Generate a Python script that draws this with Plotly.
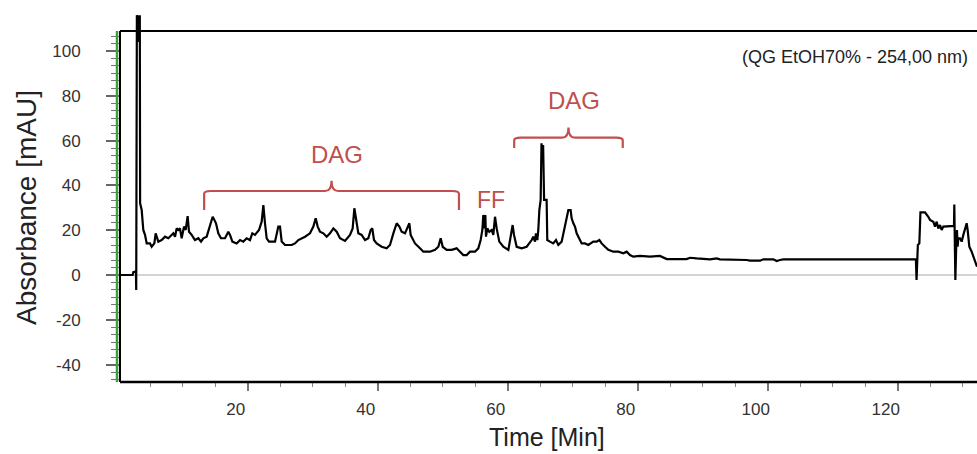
import numpy as np
import plotly.graph_objects as go

# Chromatogram, QG EtOH70 %, detection at 254 nm
time_min = [
    0.35, 2.3, 2.4, 2.8, 2.85, 2.95, 3.1, 3.2, 3.3, 3.4, 3.45,
    3.69, 3.94, 4.2, 4.46, 4.97, 5.23, 5.64, 5.84, 6.25, 6.76, 7.28, 7.79, 8.56, 8.82,
    9.07, 9.33, 9.58, 9.84, 10.2, 10.46, 10.76, 10.97, 11.38, 11.89, 12.41, 12.82, 13.17,
    13.69, 14.2, 14.61, 14.87, 15.12, 15.48, 15.89, 16.51, 17.02, 17.28, 17.64, 18.3,
    18.82, 19.33, 19.84, 20.35, 20.71, 21.12, 21.74, 22.15, 22.41, 22.66, 22.92, 23.28,
    24.2, 24.71, 24.97, 25.23, 25.74, 26.76, 27.28, 27.79, 28.82, 29.58, 30.1, 30.46,
    30.77, 31.12, 31.64, 32.15, 32.66, 33.18, 33.69, 34.2, 34.97,
    35.74, 36.15, 36.41, 36.66, 37.02, 37.53, 38.05, 38.56, 38.92, 39.17, 39.43, 39.84,
    40.61, 41.38, 41.89, 42.41, 42.92, 43.33, 43.69, 44.2, 44.87, 45.07, 45.74, 46.51,
    47.02, 48.05, 48.82, 49.33, 49.69, 50.0, 50.61, 51.38, 52.15, 52.66, 53.17, 53.69,
    54.2, 54.97, 55.48, 55.84, 56.1, 56.25, 56.46, 56.56, 56.66, 56.87, 57.17, 57.53,
    57.79, 58.05, 58.3, 58.71, 59.33, 60.1, 60.46, 60.76, 60.97, 61.38, 62.15, 62.92,
    63.69, 63.94, 64.2, 64.35, 64.56, 64.71, 64.87, 65.07, 65.2, 65.35, 65.45, 65.6,
    65.99, 66.09, 66.5, 67.0, 67.43, 67.79, 68.3, 68.56, 68.81, 69.07, 69.33, 69.68,
    69.84, 70.1, 70.35, 70.61, 70.86, 71.38, 71.89, 72.4, 73.17, 73.68, 74.1, 74.45,
    74.97, 75.48, 76.25, 77.02, 77.79, 78.3, 78.81, 79.33, 80.35, 81.89, 83.43, 83.94,
    84.46, 87.53, 88.05, 89.07, 91.12, 92.15, 92.66, 96.76, 97.28, 98.82, 99.33, 100.87,
    101.38, 101.89, 102.4, 122.8, 122.9, 123.1, 123.33, 123.5, 124.2, 124.71, 124.97,
    125.48, 125.74, 126.0, 126.25, 126.51, 126.76, 127.02, 127.53, 128.3, 128.66, 128.71,
    128.87, 129.0, 129.12, 129.22, 129.33, 129.58, 129.84, 130.1, 130.35, 130.61, 130.76,
    131.02, 131.38, 131.63, 132.2,
]
absorbance = [
    0.0, 0.0, 1.3, 1.6, -6.7, 116, 104, 116, 104, 116, 32.0,
    29.0, 20.1, 17.9, 14.1, 14.1, 12.6, 14.1, 18.6, 14.9, 15.6, 17.1, 16.4, 18.6, 17.1,
    20.8, 20.1, 20.8, 16.4, 21.6, 20.1, 26.3, 19.3, 17.9, 15.6, 16.4, 14.9, 16.4,
    17.1, 22.3, 26.0, 24.6, 23.1, 18.6, 16.4, 16.4, 19.3, 17.9, 14.9, 14.1,
    15.6, 14.9, 16.4, 15.6, 18.6, 17.9, 20.1, 23.8, 31.2, 23.1, 16.4, 14.9,
    14.9, 21.6, 21.6, 14.9, 13.4, 13.4, 14.1, 15.6, 17.1, 18.6, 21.6, 25.3,
    21.6, 19.3, 18.6, 17.1, 18.6, 20.8, 19.3, 16.4, 15.2,
    17.9, 20.8, 29.8, 24.6, 18.6, 17.9, 15.6, 16.4, 20.1, 20.8, 15.6, 14.1,
    12.6, 11.9, 13.4, 18.6, 23.1, 21.6, 19.3, 18.6, 23.1, 17.9, 14.1, 11.9,
    10.4, 10.4, 11.2, 12.6, 16.4, 12.6, 11.2, 11.2, 11.9, 10.4, 8.9, 8.9,
    10.4, 10.4, 11.9, 15.6, 20.1, 26.8, 20.8, 26.8, 17.1, 20.8, 19.3, 20.1,
    17.9, 26.0, 20.8, 14.9, 12.6, 11.2, 17.9, 22.3, 17.9, 12.6, 11.9, 12.6,
    15.6, 17.1, 14.9, 18.6, 15.6, 20.1, 29.0, 33.5, 58.8, 50.0, 58.0, 33.5,
    33.5, 15.6, 14.9, 14.1, 15.6, 13.4, 14.9, 18.6, 23.1, 25.3, 29.0, 29.0,
    25.3, 23.1, 21.6, 18.6, 17.1, 14.1, 14.1, 13.4, 14.9, 14.9, 15.6, 14.1,
    12.6, 11.2, 10.4, 10.4, 9.7, 10.4, 8.9, 8.2, 8.5, 8.2, 8.5, 7.7,
    7.1, 7.1, 7.7, 7.4, 7.0, 7.4, 7.0, 6.7, 6.4, 6.4, 7.0, 7.0,
    6.25, 6.7, 7.0, 7.0, -2.2, 13.4, 14.1, 28.0, 28.0, 26.0, 24.6,
    23.8, 21.6, 23.8, 20.8, 22.3, 20.1, 21.6, 21.6, 21.9, 21.9, 31.5,
    -2.2, 12.6, 20.1, 12.6, 16.4, 16.4, 14.9, 17.9, 20.1, 23.1, 20.1,
    12.6, 10.4, 8.2, 3.7,
]

x_ticks = [20, 40, 60, 80, 100, 120]
y_ticks = [-40, -20, 0, 20, 40, 60, 80, 100]
y_tick_text = ["-40", "-20", "0", "20", "40", "60", "80", "100"]

# Bracketed peak groups: (label, start, end, bracket level, label level)
groups = [
    ("DAG", 13.3, 52.5, 37.5, 53.6),
    ("DAG", 61.0, 77.7, 61.3, 78.1),
]
ff_label = ("FF", 57.5, 33.3)

RED = "#c0504d"
W, H = 977, 454
ML, MR, MT, MB = 120, 0, 12, 72
X_RANGE = [0.354, 132.2]
Y_RANGE = [-47.77, 117.41]
FRAME_TOP = 108.9  # upper edge of the framed region, in mAU

fig = go.Figure()
fig.add_trace(go.Scatter(
    x=time_min, y=absorbance, mode="lines",
    line=dict(color="black", width=2.2), hoverinfo="skip", showlegend=False,
))

shapes = []
# brackets
for label, x0, x1, yb, yl in groups:
    xm = (x0 + x1) / 2
    drop = (yb - 8.5) if yb < 50 else (yb - 4.6)
    rise = yb + 4.6
    r = 1.0
    path = (f"M {x0},{drop} L {x0},{yb - 1.2} Q {x0},{yb} {x0 + r},{yb} "
            f"L {xm - r},{yb} Q {xm},{yb} {xm},{rise} Q {xm},{yb} {xm + r},{yb} "
            f"L {x1 - r},{yb} Q {x1},{yb} {x1},{yb - 1.2} L {x1},{drop}")
    shapes.append(dict(type="path", path=path, xref="x", yref="y",
                       line=dict(color=RED, width=2.2), layer="above"))

plot_w = W - ML - MR
plot_h = H - MT - MB
frame_top_paper = (FRAME_TOP - Y_RANGE[0]) / (Y_RANGE[1] - Y_RANGE[0])
# green axis line, left of the frame
shapes.append(dict(type="line", xref="paper", yref="paper",
                   x0=-3 / plot_w, x1=-3 / plot_w, y0=0, y1=frame_top_paper,
                   line=dict(color="#3f9f3f", width=2.5), layer="above"))
# black frame
shapes.append(dict(type="line", xref="paper", yref="paper", x0=0, x1=0,
                   y0=0, y1=frame_top_paper, line=dict(color="black", width=2), layer="above"))
shapes.append(dict(type="line", xref="paper", yref="paper", x0=0, x1=1,
                   y0=frame_top_paper, y1=frame_top_paper,
                   line=dict(color="black", width=2), layer="above"))
shapes.append(dict(type="line", xref="paper", yref="paper", x0=0, x1=1,
                   y0=0, y1=0, line=dict(color="black", width=2.5), layer="above"))

FONT = "Liberation Sans, Arial, sans-serif"
annotations = []
for label, x0, x1, yb, yl in groups:
    annotations.append(dict(x=(x0 + x1) / 2 + 0.9, y=yl, xref="x", yref="y", text=label,
                            showarrow=False, font=dict(family=FONT, size=24, color=RED)))
annotations.append(dict(x=ff_label[1], y=ff_label[2], xref="x", yref="y", text=ff_label[0],
                        showarrow=False, font=dict(family=FONT, size=23, color=RED)))
annotations.append(dict(x=(970 - ML) / plot_w, y=(H - MB - 57) / plot_h, xref="paper", yref="paper",
                        text="(QG EtOH70% - 254,00 nm)", showarrow=False, xanchor="right",
                        yanchor="middle", font=dict(family=FONT, size=18, color="#222")))
annotations.append(dict(x=(27 - ML) / plot_w, y=(H - MB - 208) / plot_h, xref="paper", yref="paper",
                        text="Absorbance [mAU]", textangle=-90, showarrow=False,
                        xanchor="center", yanchor="middle",
                        font=dict(family=FONT, size=28, color="#222")))
annotations.append(dict(x=(547 - ML) / plot_w, y=(H - MB - 453) / plot_h, xref="paper", yref="paper",
                        text="Time [Min]", showarrow=False, xanchor="center", yanchor="bottom",
                        font=dict(family=FONT, size=25, color="#222")))

minor_y = [v for v in np.arange(-140, 321, 10) / 3 if -47.0 < v < 108.5]

fig.update_layout(
    width=W, height=H, margin=dict(l=ML, r=MR, t=MT, b=MB),
    paper_bgcolor="white", plot_bgcolor="white",
    shapes=shapes, annotations=annotations,
    xaxis=dict(range=X_RANGE, tickmode="array", tickvals=x_ticks,
               ticks="outside", ticklen=8, tickwidth=1.5, tickcolor="#777",
               minor=dict(dtick=5, tick0=0, ticks="outside", ticklen=4, tickwidth=1.2, tickcolor="#888"),
               showline=False, showgrid=False, zeroline=False,
               ticklabelshift=-12, ticklabelstandoff=4,
               tickfont=dict(family=FONT, size=17, color="#333")),
    yaxis=dict(range=Y_RANGE, tickmode="array", tickvals=y_ticks, ticktext=y_tick_text,
               ticks="outside", ticklen=13, tickwidth=1.5, tickcolor="#666",
               minor=dict(tickmode="array", tickvals=minor_y, ticks="outside",
                          ticklen=8, tickwidth=1.2, tickcolor="#777"),
               showline=False, showgrid=False,
               zeroline=True, zerolinecolor="#d4d4d4", zerolinewidth=1.5,
               ticklabelstandoff=22,
               tickfont=dict(family=FONT, size=17, color="#333")),
)

fig.write_html("out.html")
